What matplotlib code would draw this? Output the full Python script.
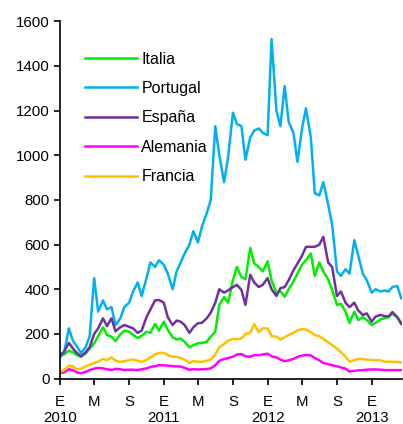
import pandas as pd
import matplotlib.pyplot as plt

# semi-monthly observations, Jan 2010 - Apr 2013
fechas = pd.date_range('2010-01-01', periods=80, freq='SMS')

italia = [100, 108, 125, 118, 105, 98, 112, 135, 158, 190,
          230, 195, 188, 168, 198, 215, 210, 195, 182, 192,
          210, 205, 245, 215, 255, 218, 185, 175, 180, 165,
          140, 150, 158, 160, 165, 188, 210, 330, 365, 340,
          440, 500, 455, 445, 585, 515, 500, 480, 525, 440,
          385, 390, 367, 400, 435, 470, 510, 530, 560, 460,
          520, 480, 445, 397, 330, 335, 300, 250, 300, 262,
          275, 262, 240, 250, 265, 270, 275, 290, 275, 250]

portugal = [95, 115, 225, 170, 145, 115, 140, 190, 450, 300,
            350, 310, 320, 240, 270, 320, 340, 390, 430, 370,
            450, 520, 500, 530, 510, 470, 400, 480, 520, 560,
            600, 660, 610, 680, 740, 800, 1130, 1000, 880, 990,
            1190, 1140, 1130, 980, 1080, 1110, 1120, 1100, 1090, 1520,
            1200, 1130, 1310, 1150, 1100, 970, 1120, 1210, 1080, 830,
            820, 880, 780, 690, 480, 460, 490, 470, 620, 550,
            470, 440, 385, 400, 390, 395, 390, 410, 415, 360]

espana = [105, 120, 160, 135, 115, 100, 118, 140, 200, 225,
          270, 235, 270, 212, 230, 240, 232, 225, 205, 215,
          275, 310, 350, 352, 340, 275, 240, 260, 255, 240,
          205, 230, 248, 250, 270, 295, 340, 400, 385, 395,
          410, 420, 397, 330, 465, 430, 410, 420, 450, 400,
          370, 405, 410, 440, 485, 515, 550, 590, 590, 590,
          600, 635, 520, 500, 370, 390, 340, 320, 340, 305,
          285, 292, 255, 278, 285, 280, 278, 298, 275, 245]

alemania = [25, 28, 42, 38, 28, 24, 30, 38, 45, 48,
            46, 42, 38, 44, 42, 38, 40, 40, 38, 42,
            46, 52, 56, 60, 60, 58, 56, 55, 54, 48,
            40, 42, 41, 42, 43, 46, 60, 80, 88, 92,
            98, 108, 110, 100, 98, 105, 105, 108, 112, 100,
            95, 85, 78, 82, 88, 97, 103, 106, 104, 92,
            82, 70, 65, 60, 55, 50, 45, 32, 35, 37,
            38, 40, 41, 41, 40, 38, 38, 38, 38, 38]

francia = [30, 38, 58, 55, 42, 44, 55, 62, 70, 76,
           88, 83, 95, 80, 75, 78, 83, 86, 80, 75,
           83, 95, 108, 115, 115, 105, 98, 98, 92, 85,
           70, 78, 76, 75, 80, 86, 108, 140, 155, 170,
           178, 176, 180, 200, 205, 245, 208, 225, 225, 190,
           188, 175, 185, 195, 205, 215, 222, 220, 208, 195,
           190, 178, 163, 150, 135, 118, 98, 76, 82, 88,
           88, 85, 83, 82, 82, 76, 76, 75, 75, 72]

series = ['Italia', 'Portugal', 'España', 'Alemania', 'Francia']
valores = [italia, portugal, espana, alemania, francia]
colores = ['#00EE00', '#00B0F0', '#7030A0', '#FF00FF', '#FFC000']

tick_fechas = pd.date_range('2010-01-01', '2013-01-01', freq='4MS')
tick_labels = ['E\n2010', 'M', 'S', 'E\n2011', 'M', 'S', 'E\n2012', 'M', 'S', 'E\n2013']

plt.rcParams['font.family'] = ['Liberation Sans', 'DejaVu Sans']

fig = plt.figure(figsize=(4.03, 4.24), dpi=100)
ax = fig.add_axes([0.149, 0.107, 0.848, 0.843])

for nombre, y, c in zip(series, valores, colores):
    ax.plot(fechas, y, color=c, lw=1.8, label=nombre)

ax.set_ylim(0, 1600)
ax.set_yticks(range(0, 1601, 200))
ax.set_xlim(pd.Timestamp('2010-01-01'), pd.Timestamp('2013-04-17'))
ax.set_xticks(tick_fechas)
ax.set_xticklabels(tick_labels)

for s in ['top', 'right']:
    ax.spines[s].set_visible(False)
ax.spines['left'].set_linewidth(1.2)
ax.spines['bottom'].set_linewidth(1.2)
ax.tick_params(direction='out', length=4, width=1.2, labelsize=10.8)
ax.tick_params(axis='x', pad=7.5)

ax.legend(loc='upper left', bbox_to_anchor=(0.03, 0.955), frameon=False,
          fontsize=11.5, handlelength=3.25, handletextpad=0.3,
          labelspacing=0.9)

fig.savefig('out.png', dpi=100)
